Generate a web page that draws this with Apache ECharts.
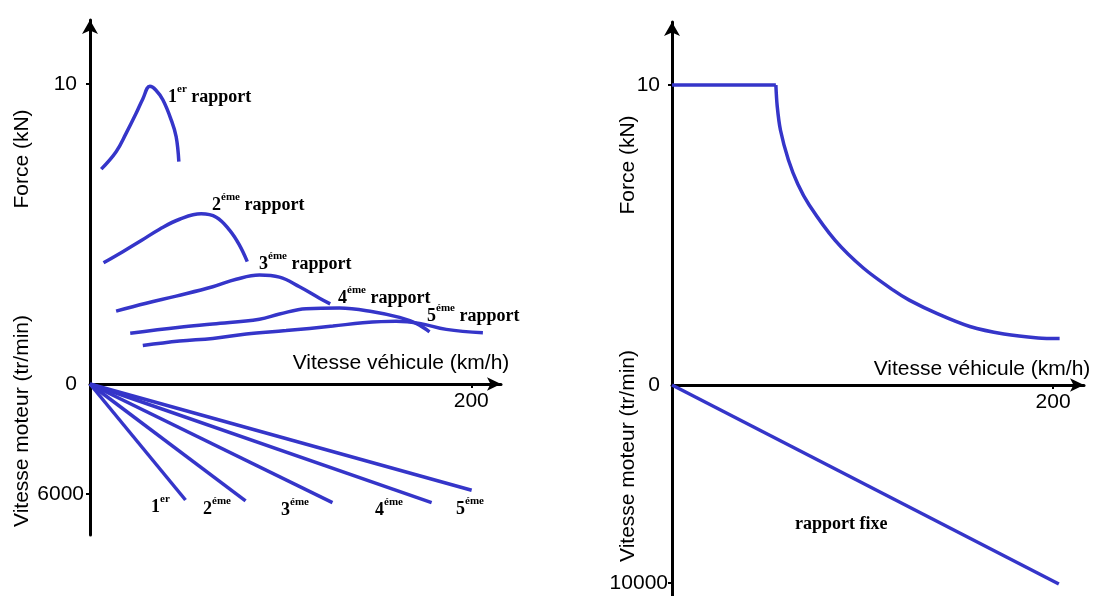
<!DOCTYPE html>
<html>
<head>
<meta charset="utf-8">
<script src="https://cdn.jsdelivr.net/npm/echarts@6/dist/echarts.min.js"></script>
<style>
  html, body { margin: 0; padding: 0; background: #fff; }
  #box { width: 1095px; height: 596px; }
</style>
</head>
<body>
<div id="box"></div>
<script>
// force à la roue (kN) en fonction de la vitesse (km/h), boite à 5 rapports
const rapport1 = [[5.9,7.16],[13.7,7.74],[19.0,8.36],[24.2,9.02],[27.7,9.5],[31.4,9.92],[34.5,9.8],[38.2,9.47],[42.6,8.8],[45.2,8.24],[46.6,7.41]]
const rapport2 = [[7.1,4.04],[17.2,4.41],[26.9,4.78],[36.5,5.16],[47.0,5.49],[58.3,5.67],[66.2,5.56],[73.2,5.13],[78.4,4.63],[82.5,4.08]]
const rapport3 = [[13.7,2.43],[29.5,2.69],[45.2,2.93],[64.4,3.24],[76.7,3.49],[88.9,3.63],[99.4,3.56],[109.9,3.24],[120.4,2.86],[126.0,2.67]]
const rapport4 = [[21.1,1.69],[47.0,1.89],[64.4,2.0],[88.9,2.16],[99.4,2.33],[113.4,2.51],[130.9,2.53],[148.4,2.41],[162.4,2.22],[171.1,2.02],[178.1,1.74]]
const rapport5 = [[27.7,1.28],[47.0,1.43],[64.4,1.52],[82.0,1.67],[102.9,1.78],[127.4,1.93],[143.1,2.04],[160.6,2.09],[172.9,2.02],[186.9,1.82],[206.1,1.71]]
// vitesse moteur max atteinte sur chaque rapport : [km/h, tr/min]
const finRapports = [[50.1,6330],[81.6,6380],[127.2,6470],[179.2,6470],[200.2,5800]]

// rapport fixe
const fixePalier = [[0,10],[54.5,10]]
const fixeForce = [[54.5,10],[55.2,9.3],[56.9,8.5],[61.1,7.5],[66,6.7],[72.0,6.0],[85.5,4.83],[100.4,3.9],[115.9,3.17],[124.5,2.83],[139.5,2.37],[156.3,1.95],[174.2,1.70],[192.1,1.57],[203.4,1.55]]
const fixeRegime = [[0,0],[203,10050]]

const bleu = '#3535c9'
const sans = 'Liberation Sans'
const serif = 'Liberation Serif'

const myChart = echarts.init(document.getElementById('box'))

const lbl = v => String(v)

function axeX(grid, max, visible) {
  return {
    gridIndex: grid, type: 'value', min: 0, max: max, show: visible,
    axisLine: {show: true, onZero: false, symbol: ['none','arrow'], symbolSize: [10,14], lineStyle: {color: '#000', width: 3}},
    axisTick: {show: true, customValues: [200], length: 4, lineStyle: {color: '#000', width: 2}},
    axisLabel: {customValues: [200], formatter: lbl, fontFamily: sans, fontSize: 21, color: '#000', margin: 7},
    splitLine: {show: false}
  }
}
function axeY(grid, max, ticks, labels, haut, margin) {
  return {
    gridIndex: grid, type: 'value', min: 0, max: max, inverse: !haut,
    axisLine: {show: true, onZero: false, symbol: haut ? ['none','arrow'] : 'none', symbolSize: [12,14], lineStyle: {color: '#000', width: 3}},
    axisTick: {show: true, customValues: ticks, length: 4, lineStyle: {color: '#000', width: 2}},
    axisLabel: {customValues: labels, formatter: lbl, fontFamily: sans, fontSize: 21, color: '#000', margin: margin},
    splitLine: {show: false}
  }
}
function courbe(x, y, data, smooth) {
  return {type: 'line', xAxisIndex: x, yAxisIndex: y, data: data, showSymbol: false, smooth: smooth,
    lineStyle: {color: bleu, width: 3.5}, silent: true, animation: false}
}

const series = [rapport1, rapport2, rapport3, rapport4, rapport5].map(d => courbe(0, 0, d, 0.4))
finRapports.forEach(p => series.push(courbe(1, 1, [[0,0], p], false)))
series.push(courbe(2, 2, fixePalier, false))
series.push(courbe(2, 2, fixeForce, 0.3))
series.push(courbe(3, 3, fixeRegime, false))

function texte(x, y, txt, rot) {
  return {type: 'text', x: x, y: y, rotation: rot || 0,
    style: {text: txt, font: '21px "Liberation Sans"', fill: '#000', align: 'center', verticalAlign: 'middle'}}
}
const rich = {
  n: {fontFamily: serif, fontWeight: 'bold', fontSize: 18, lineHeight: 22, color: '#000', verticalAlign: 'bottom'},
  s: {fontFamily: serif, fontWeight: 'bold', fontSize: 11, lineHeight: 22, color: '#000', verticalAlign: 'top'}
}
function etiquette(x, y, num, sup, suite) {
  return {type: 'text', x: x, y: y,
    style: {text: '{n|' + num + '}{s|' + sup + '}' + (suite ? '{n| ' + suite + '}' : ''), rich: rich, align: 'left', verticalAlign: 'middle'}}
}

const option = {
  animation: false,
  grid: [
    {left: 90, top: 20, width: 411, height: 364},
    {left: 90, top: 384, width: 411, height: 151},
    {left: 672, top: 22, width: 412, height: 363},
    {left: 672, top: 385, width: 412, height: 211}
  ],
  xAxis: [axeX(0, 215.6, true), axeX(1, 215.6, false), axeX(2, 216.2, true), axeX(3, 216.2, false)],
  yAxis: [
    axeY(0, 12.13, [10], [0,10], true, 13),
    axeY(1, 8240, [6000], [6000], false, 6),
    axeY(2, 12.1, [10], [0,10], true, 12),
    axeY(3, 10657, [10000], [10000], false, 4)
  ],
  series: series,
  graphic: [
    texte(22, 159, 'Force (kN)', Math.PI / 2),
    texte(22, 421, 'Vitesse moteur (tr/min)', Math.PI / 2),
    texte(628, 165, 'Force (kN)', Math.PI / 2),
    texte(628, 456, 'Vitesse moteur (tr/min)', Math.PI / 2),
    texte(401, 363, 'Vitesse véhicule (km/h)'),
    texte(982, 369, 'Vitesse véhicule (km/h)'),
    etiquette(168, 95, '1', 'er', 'rapport'),
    etiquette(212, 203, '2', 'éme', 'rapport'),
    etiquette(259, 262, '3', 'éme', 'rapport'),
    etiquette(338, 296, '4', 'éme', 'rapport'),
    etiquette(427, 314, '5', 'éme', 'rapport'),
    etiquette(151, 505, '1', 'er'),
    etiquette(203, 507, '2', 'éme'),
    etiquette(281, 508, '3', 'éme'),
    etiquette(375, 508, '4', 'éme'),
    etiquette(456, 507, '5', 'éme'),
    {type: 'text', x: 795, y: 524, style: {text: 'rapport fixe', font: 'bold 18px "Liberation Serif"', fill: '#000', align: 'left', verticalAlign: 'middle'}}
  ]
}
myChart.setOption(option)
</script>
</body>
</html>
